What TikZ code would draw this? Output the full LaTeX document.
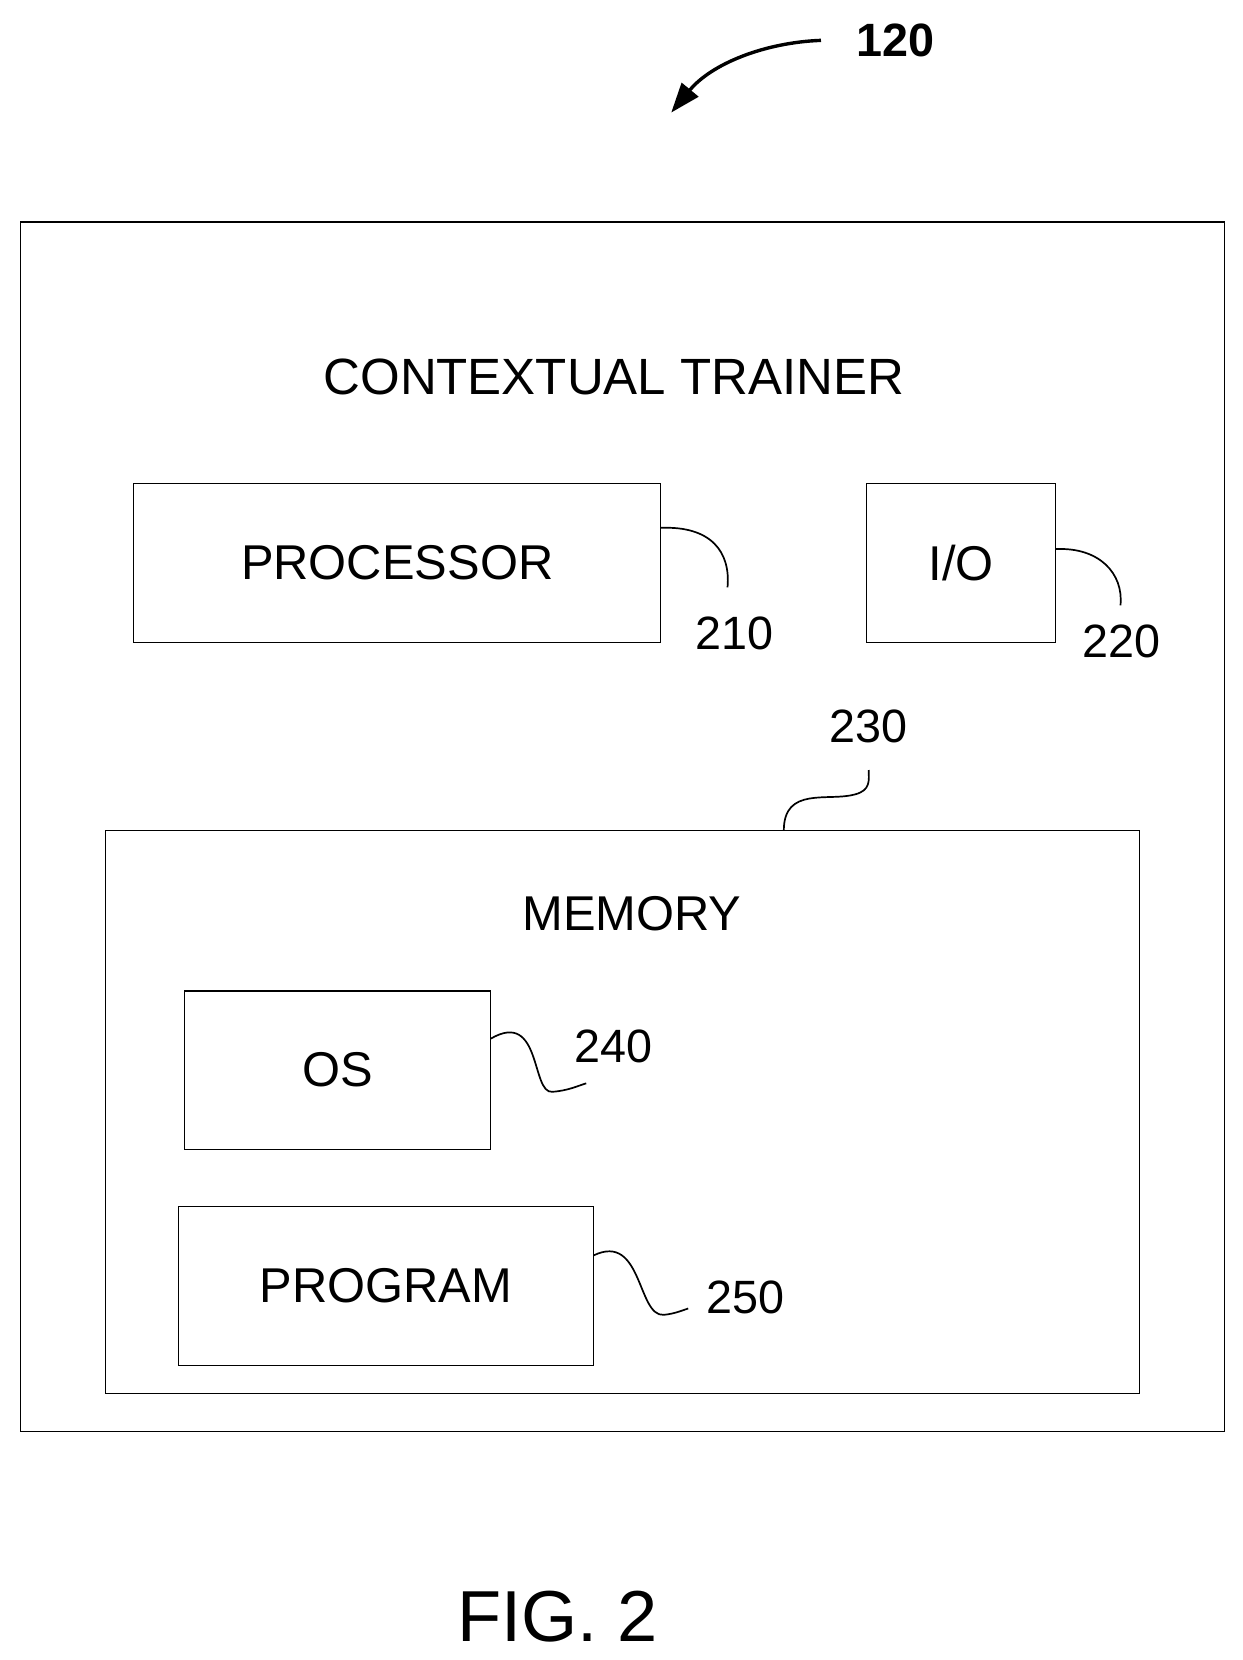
\documentclass[tikz,border=0pt]{standalone}
\usepackage{fontspec}
\setmainfont{Liberation Sans}
\usetikzlibrary{arrows.meta}

\tikzset{
  blk/.style={draw,line width=0.6pt,inner sep=0pt,font=\fontsize{23}{27}\selectfont},
  lbl/.style={inner sep=0.75pt,font=\fontsize{22}{26}\selectfont},
  lead/.style={line width=0.8pt}
}

\begin{document}
\begin{tikzpicture}[x=0.5pt,y=0.5pt,yscale=-1,xscale=1]
\useasboundingbox (0,0) rectangle (1170,1563);

%Outer box
\node [blk,minimum width=567pt,minimum height=569.5pt] (trainer) at (586,778.5) {};
\node [inner sep=0pt,font=\fontsize{24}{28}\selectfont] (title) at (578,355) {CONTEXTUAL TRAINER};

%Processor and I/O
\node [blk,minimum width=248pt,minimum height=75pt] (proc) at (374,530) {PROCESSOR};
\node [blk,minimum width=89pt,minimum height=75pt] (io) at (905,530) {I/O};
\node [lbl] (n210) at (692,596) {210};
\node [lbl] (n220) at (1056,604) {220};
\coordinate (p1) at (622,497);
\coordinate (i1) at (994,517);
\draw [lead] (p1) .. controls (670,495) and (688,520) .. (685,553);
\draw [lead] (i1) .. controls (1035,515) and (1058,540) .. (1055,570);

%Memory
\node [blk,minimum width=487pt,minimum height=265pt] (mem) at (586,1047) {};
\node [inner sep=0pt,font=\fontsize{23}{27}\selectfont] (memt) at (595,860) {MEMORY};
\node [lbl] (n230) at (818,684) {230};
\draw [lead] (738,782) .. controls (738,740) and (780,755) .. (805,748) .. controls (820,744) and (818,735) .. (818,725);

%OS and program
\node [blk,minimum width=144pt,minimum height=74.5pt] (os) at (318,1007.5) {OS};
\node [blk,minimum width=195.5pt,minimum height=75pt] (prog) at (363.5,1211) {PROGRAM};
\node [lbl] (n240) at (578,985) {240};
\node [lbl] (n250) at (702,1222) {250};
\draw [lead] (462,978) .. controls (510,950) and (500,1030) .. (520,1028) .. controls (535,1027) and (545,1022) .. (552,1020);
\draw [lead] (559,1182) .. controls (605,1160) and (600,1240) .. (625,1238) .. controls (635,1237) and (642,1234) .. (648,1232);

%Reference arrow
\node [inner sep=0.75pt,font=\bfseries\fontsize{22}{26}\selectfont] (n120) at (843,38) {120};
\draw [line width=1.6pt,-{Triangle[length=14pt,width=10pt]}] (773,38) .. controls (720,40) and (670,60) .. (632,106);

\node [inner sep=0pt,font=\fontsize{34}{40}\selectfont] (fig) at (525,1522) {FIG. 2};
\end{tikzpicture}
\end{document}
